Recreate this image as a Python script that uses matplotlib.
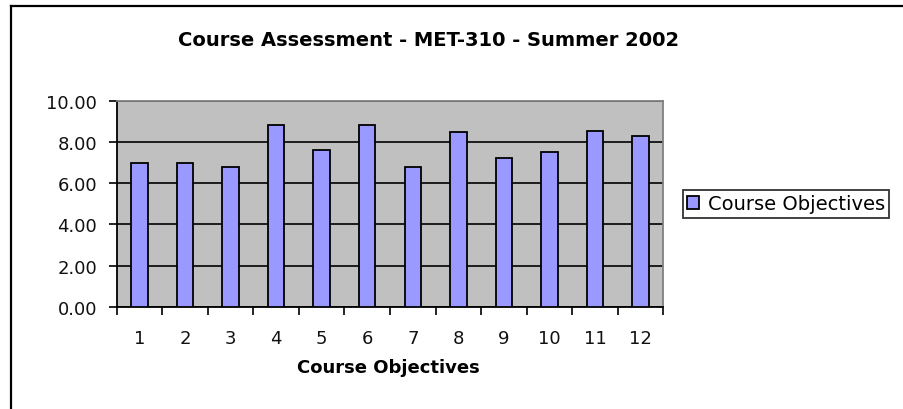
import matplotlib
matplotlib.use("Agg")
import matplotlib.pyplot as plt
from matplotlib.lines import Line2D

categories = ["1", "2", "3", "4", "5", "6", "7", "8", "9", "10", "11", "12"]
values = [7.00, 7.00, 6.78, 8.85, 7.63, 8.85, 6.78, 8.48, 7.24, 7.54, 8.56, 8.31]
y_ticks = [0, 2, 4, 6, 8, 10]
series_name = "Course Objectives"
title = "Course Assessment - MET-310 - Summer 2002"
x_label = "Course Objectives"

plt.rcParams['font.family'] = ['DejaVu Sans']

W, H = 904, 410
fig = plt.figure(figsize=(W / 100, H / 100), dpi=100)
fig.patch.set_facecolor("white")

# chart frame (top and left edges visible)
fig.add_artist(Line2D([11 / W, 11 / W], [0, 1 - 6.5 / H], color="black", lw=1.6,
                      transform=fig.transFigure))
fig.add_artist(Line2D([11 / W, 1], [1 - 6.5 / H, 1 - 6.5 / H], color="black", lw=1.6,
                      transform=fig.transFigure))

left, right, top, bottom = 116.7, 663.3, 102, 307.7
ax = fig.add_axes([left / W, 1 - bottom / H, (right - left) / W, (bottom - top) / H])
ax.set_facecolor("#C0C0C0")

x = list(range(len(categories)))
bars = ax.bar(x, values, width=0.36, color="#9999FF", edgecolor="black",
              linewidth=1.3, zorder=3, label=series_name)

ax.set_xlim(-0.5, len(categories) - 0.5)
ax.set_ylim(0, 10)
ax.set_yticks(y_ticks)
ax.set_yticklabels([f"{v:.2f}" for v in y_ticks])
ax.yaxis.grid(True, color="black", linewidth=1.2, zorder=1)
ax.set_axisbelow(True)

ax.set_xticks([i + 0.5 for i in range(-1, len(categories))])
ax.set_xticklabels([])
ax.set_xticks(x, minor=True)
ax.set_xticklabels(categories, minor=True)
ax.tick_params(axis="x", which="major", direction="out", length=6, width=1.2, color="black")
ax.tick_params(axis="x", which="minor", length=0, pad=16, labelsize=13, labelcolor="#111111")
ax.tick_params(axis="y", direction="out", length=6, width=1.2, pad=8,
               labelsize=13, labelcolor="#111111")

for s in ["left", "bottom"]:
    ax.spines[s].set_color("black")
    ax.spines[s].set_linewidth(1.3)
for s in ["top", "right"]:
    ax.spines[s].set_color("#808080")
    ax.spines[s].set_linewidth(1.3)

fig.text(429 / W, 1 - 40.5 / H, title, ha="center", va="center",
         fontsize=14, fontweight="bold")
fig.text(388 / W, 1 - 368 / H, x_label, ha="center", va="center",
         fontsize=13, fontweight="bold")

leg = fig.legend(handles=[bars], labels=[series_name], loc="center left",
                 bbox_to_anchor=(683 / W, 1 - 205 / H), frameon=True, fancybox=False,
                 fontsize=14, handlelength=0.6, handleheight=0.6, handletextpad=0.45,
                 borderpad=0.22, borderaxespad=0)
leg.get_frame().set_edgecolor("black")
leg.get_frame().set_linewidth(1.3)

fig.savefig("out.png", dpi=100)
